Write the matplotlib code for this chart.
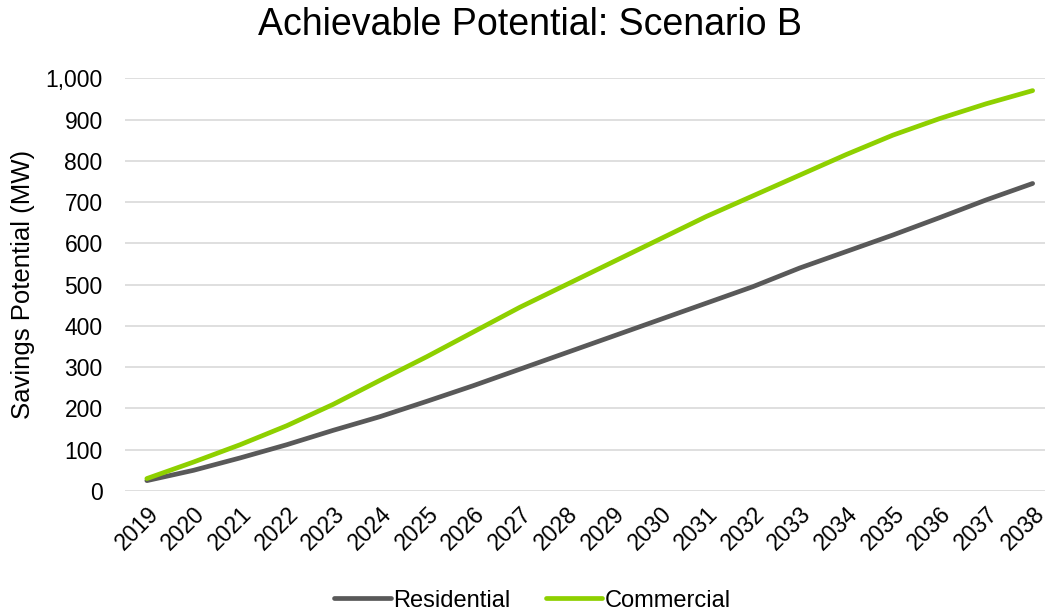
import matplotlib.pyplot as plt

plt.rcParams["font.family"] = ["Liberation Sans", "DejaVu Sans"]

years = list(range(2019, 2039))
residential = [25, 50, 80, 112, 147, 180, 217, 255, 295, 335, 375, 415, 455, 495, 540, 580, 620, 662, 705, 745]
commercial = [30, 70, 112, 158, 210, 268, 325, 385, 445, 500, 555, 610, 665, 715, 765, 815, 862, 902, 938, 970]

fig = plt.figure(figsize=(10.5, 6.16), dpi=100)
ax = fig.add_axes([0.119, 0.203, 0.876, 0.670])

ax.plot(years, residential, color="#595959", linewidth=3.4, label="Residential", solid_capstyle="round")
ax.plot(years, commercial, color="#8ED000", linewidth=3.4, label="Commercial", solid_capstyle="round")

ax.set_xlim(2018.53, 2038.26)
ax.set_ylim(0, 1000)
ax.set_yticks(range(0, 1001, 100))
ax.set_yticklabels([f"{v:,}" for v in range(0, 1001, 100)])
ax.set_xticks(years)
ax.set_xticklabels([str(y) for y in years], rotation=45, ha="right", rotation_mode="anchor")
ax.tick_params(axis="both", length=0, labelsize=16.5, colors="#000000")
ax.tick_params(axis="y", pad=16)
ax.tick_params(axis="x", pad=8)
ax.grid(axis="y", color="#d9d9d9", linewidth=1.2)
ax.set_axisbelow(True)
for s in ax.spines.values():
    s.set_visible(False)

ax.set_ylabel("Savings Potential (MW)", fontsize=18.5)
ax.yaxis.set_label_coords(-0.098, 0.5)
fig.text(0.505, 0.96, "Achievable Potential: Scenario B", fontsize=27, ha="center", va="center")

fig.legend(loc="center", bbox_to_anchor=(0.507, 0.025), ncol=2, frameon=False,
           fontsize=17, handlelength=2.4, handletextpad=0.1, columnspacing=1.5)

fig.savefig("out.png", dpi=100)
